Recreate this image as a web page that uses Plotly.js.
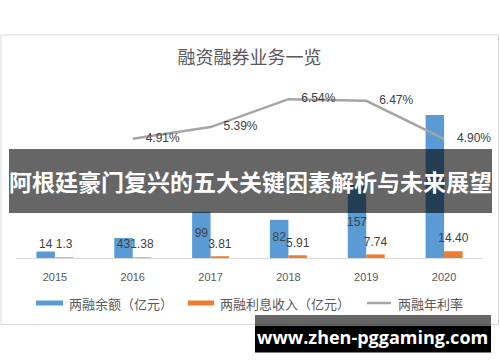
<!DOCTYPE html>
<html>
<head>
<meta charset="utf-8">
<script src="https://cdn.plot.ly/plotly-3.0.1.min.js"></script>
<style>html,body{margin:0;padding:0;background:#fff;}#chart{width:500px;height:362px;}</style>
</head>
<body>
<div id="chart"></div>
<script>
// ---- data ----
const years = ['2015', '2016', '2017', '2018', '2019', '2020'];
const balance = [14, 43, 99, 82, 157, 307];              // 两融余额（亿元）
const balanceText = ['14', '43', '99', '82', '157', ''];  // 2020 label is hidden by the banner in the source
const interest = [1.3, 1.38, 3.81, 5.91, 7.74, 14.40];   // 两融利息收入（亿元）
const interestText = ['1.3', '1.38', '3.81', '5.91', '7.74', '14.40'];
const rate = [null, 4.91, 5.39, 6.54, 6.47, 4.90];       // 两融年利率 (%)
const seriesNames = ['两融余额（亿元）', '两融利息收入（亿元）', '两融年利率'];
const chartTitle = '融资融券业务一览';
const bannerText = '阿根廷豪门复兴的五大关键因素解析与未来展望';
const watermarkText = 'www.zhen-pggaming.com';

// ---- layout geometry ----
const W = 500, H = 362;
const M = {l: 16, r: 17, t: 95, b: 104};
const PW = W - M.l - M.r, PH = H - M.t - M.b;
const yMax = 350, y2Max = 6.71;
const pxPerUnit = PH / yMax;
const px2x = px => (px - M.l) / PW;
const py2y = py => (H - M.b - py) / PH;

const BLUE = '#5B9BD5', ORANGE = '#ED7D31', GRAY = '#A5A5A5';
const CJK = '"Noto Sans CJK SC", "Noto Sans", sans-serif';
const NUM = '"Liberation Sans", Arial, sans-serif';
const bargap = 0.525;
const half = (1 - bargap) / 4; // center offset of each bar in a group

// label lift above the baseline (pixels), as placed in the source chart
const liftBlue = v => 13 + Math.max(0, v - 45) * 0.2;
const liftOrange = v => 13 + Math.max(0, v - 5) * 0.6;

const traces = [
  {type: 'bar', x: years, y: balance, name: seriesNames[0], marker: {color: BLUE},
   showlegend: false, hoverinfo: 'skip'},
  {type: 'bar', x: years, y: interest, name: seriesNames[1], marker: {color: ORANGE},
   showlegend: false, hoverinfo: 'skip'},
  {type: 'scatter', mode: 'text', xaxis: 'x2', yaxis: 'y',
   x: years.map((_, i) => i - half), y: balance.map(v => liftBlue(v) / pxPerUnit),
   text: balanceText, textposition: 'middle center', cliponaxis: false,
   textfont: {family: NUM, size: 12, color: '#404040'}, showlegend: false, hoverinfo: 'skip'},
  {type: 'scatter', mode: 'text', xaxis: 'x2', yaxis: 'y',
   x: years.map((_, i) => i + half), y: interest.map(v => liftOrange(v) / pxPerUnit),
   text: interestText, textposition: 'middle center', cliponaxis: false,
   textfont: {family: NUM, size: 12, color: '#404040'}, showlegend: false, hoverinfo: 'skip'},
  {type: 'scatter', mode: 'lines+markers+text', x: years, y: rate, yaxis: 'y2',
   name: seriesNames[2], line: {color: GRAY, width: 2.5},
   marker: {size: 19, color: 'rgba(0,0,0,0)'},
   text: rate.map(v => v == null ? '' : v.toFixed(2) + '%'), textposition: 'middle right',
   textfont: {family: NUM, size: 12, color: '#404040'}, cliponaxis: false,
   showlegend: false, hoverinfo: 'skip'}
];

const shapes = [
  // chart frame
  {type: 'rect', xref: 'paper', yref: 'paper', x0: px2x(1), x1: px2x(498.5), y0: py2y(35), y1: py2y(324.5),
   line: {color: '#D9D9D9', width: 1}, fillcolor: 'rgba(0,0,0,0)', layer: 'below'},
  // legend swatches
  {type: 'rect', xref: 'paper', yref: 'paper', x0: px2x(36), x1: px2x(63), y0: py2y(305.5), y1: py2y(300.5),
   line: {width: 0}, fillcolor: BLUE},
  {type: 'rect', xref: 'paper', yref: 'paper', x0: px2x(188), x1: px2x(214), y0: py2y(305.5), y1: py2y(300.5),
   line: {width: 0}, fillcolor: ORANGE},
  {type: 'line', xref: 'paper', yref: 'paper', x0: px2x(367), x1: px2x(391), y0: py2y(303), y1: py2y(303),
   line: {color: GRAY, width: 2.5}},
  // banner overlay
  {type: 'rect', xref: 'paper', yref: 'paper', x0: px2x(9), x1: px2x(492), y0: py2y(213), y1: py2y(149),
   line: {width: 0}, fillcolor: 'rgba(0,0,0,0.6)', layer: 'above'},
  // watermark
  {type: 'rect', xref: 'paper', yref: 'paper', x0: px2x(255), x1: px2x(491), y0: py2y(326), y1: py2y(315),
   line: {width: 0}, fillcolor: 'rgba(0,0,0,0.6)', layer: 'above'},
  {type: 'rect', xref: 'paper', yref: 'paper', x0: px2x(255), x1: px2x(491), y0: py2y(352.5), y1: py2y(326),
   line: {width: 0}, fillcolor: '#000000', layer: 'above'}
];

const annotations = [
  {xref: 'paper', yref: 'paper', x: px2x(67), y: py2y(303), xanchor: 'left', yanchor: 'middle',
   text: seriesNames[0], showarrow: false, font: {family: CJK, size: 13, color: '#595959'}},
  {xref: 'paper', yref: 'paper', x: px2x(218), y: py2y(303), xanchor: 'left', yanchor: 'middle',
   text: seriesNames[1], showarrow: false, font: {family: CJK, size: 13, color: '#595959'}},
  {xref: 'paper', yref: 'paper', x: px2x(396), y: py2y(303), xanchor: 'left', yanchor: 'middle',
   text: seriesNames[2], showarrow: false, font: {family: CJK, size: 13, color: '#595959'}},
  {xref: 'paper', yref: 'paper', x: px2x(250.5), y: py2y(181), xanchor: 'center', yanchor: 'middle',
   text: '<b>' + bannerText + '</b>', showarrow: false, font: {family: CJK, size: 23, color: '#FFFFFF'}},
  {xref: 'paper', yref: 'paper', x: px2x(372), y: py2y(337), xanchor: 'center', yanchor: 'middle',
   text: '<b>' + watermarkText + '</b>', showarrow: false,
   font: {family: '"Open Sans", "DejaVu Sans", sans-serif', size: 18, color: '#FFFFFF'}}
];

const layout = {
  width: W, height: H,
  margin: M,
  paper_bgcolor: '#FFFFFF', plot_bgcolor: '#FFFFFF',
  title: {text: chartTitle, x: 249.5 / W, xanchor: 'center', y: 1 - 58 / H, yanchor: 'middle',
          xref: 'container', yref: 'container',
          font: {family: CJK, size: 18, color: '#595959'}},
  barmode: 'group', bargap: bargap, bargroupgap: 0,
  showlegend: false,
  xaxis: {type: 'category', categoryarray: years, showline: true, linecolor: '#D9D9D9', linewidth: 1,
          ticks: '', showgrid: false, zeroline: false, ticklabelstandoff: 9,
          tickfont: {family: NUM, size: 11, color: '#595959'}, fixedrange: true},
  xaxis2: {overlaying: 'x', range: [-0.5, years.length - 0.5], visible: false, anchor: 'y'},
  yaxis: {range: [0, yMax], visible: false, showgrid: false, zeroline: false},
  yaxis2: {overlaying: 'y', side: 'right', range: [0, y2Max], visible: false, showgrid: false, zeroline: false},
  shapes: shapes,
  annotations: annotations
};

Plotly.newPlot('chart', traces, layout, {displayModeBar: false, staticPlot: true});
</script>
</body>
</html>
